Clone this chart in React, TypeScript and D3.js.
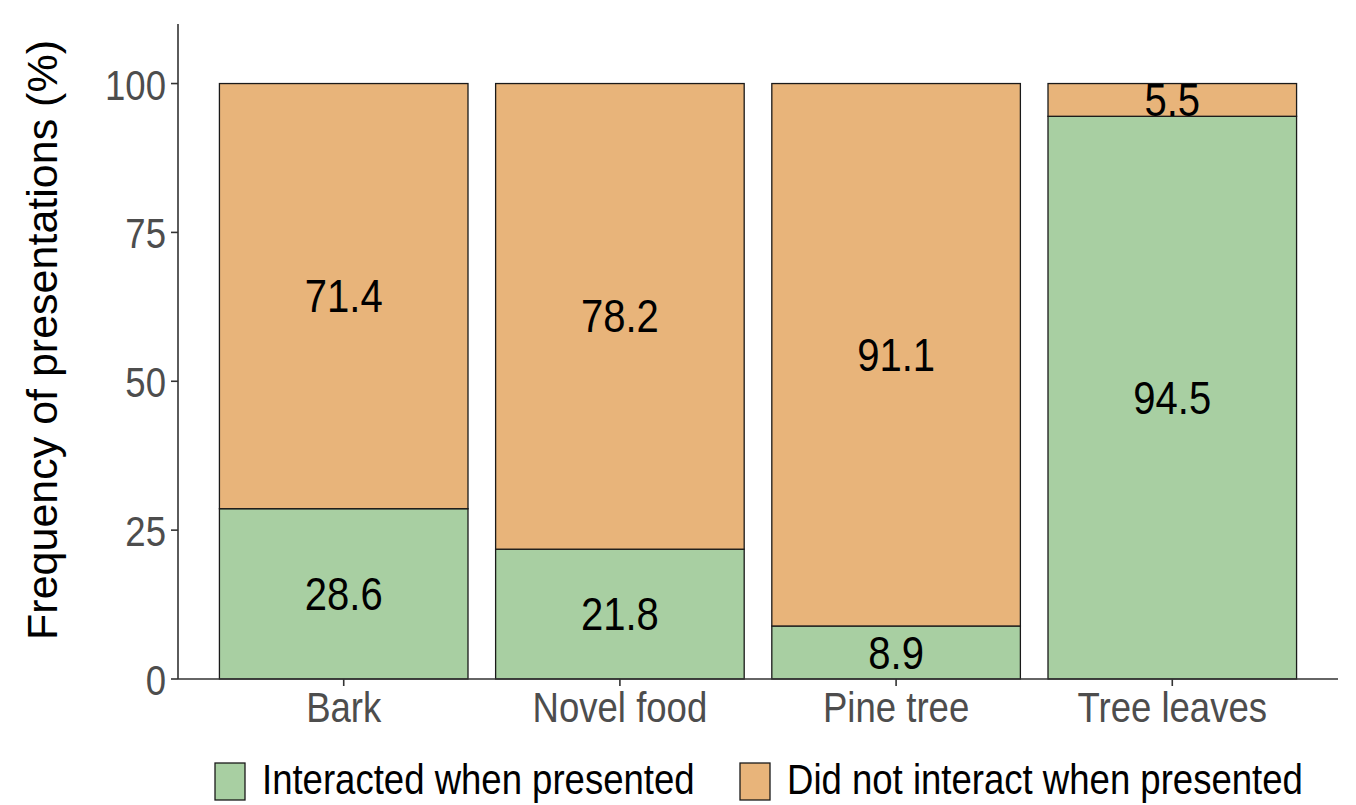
import * as d3 from "d3";

const categories = ["Bark", "Novel food", "Pine tree", "Tree leaves"];
const interacted = [28.6, 21.8, 8.9, 94.5];
const notInteracted = [71.4, 78.2, 91.1, 5.5];
const seriesNames = ["Interacted when presented", "Did not interact when presented"];
const seriesColors = ["#a8cfa2", "#e8b47a"];
const yTicks = [0, 25, 50, 75, 100];

const W = 1356;
const H = 805;
const margin = { top: 24, right: 18, bottom: 126, left: 178 };
const FONT = "'Liberation Sans', Arial, sans-serif";
const SQ = 0.87; // the reference text is horizontally squeezed

function SText(props: {
  x: number;
  y: number;
  size: number;
  anchor?: string;
  fill?: string;
  rotate?: number;
  children: string;
}) {
  const { x, y, size, anchor = "middle", fill = "#000", rotate = 0, children } = props;
  const tf = rotate
    ? `translate(${x},${y}) rotate(${rotate})`
    : `translate(${x},${y}) scale(${SQ},1)`;
  return (
    <g transform={tf}>
      <text fontFamily={FONT} fontSize={size} textAnchor={anchor} fill={fill}>
        {children}
      </text>
    </g>
  );
}

export default function App() {
  const x = d3
    .scaleBand<string>()
    .domain(categories)
    .range([margin.left, W - margin.right])
    .paddingInner(0.1)
    .paddingOuter(0.15);

  const y = d3
    .scaleLinear()
    .domain([0, 110])
    .range([H - margin.bottom, margin.top]);

  const rows = categories.map((c, i) => ({
    cat: c,
    a: interacted[i],
    b: notInteracted[i],
  }));
  const stack = d3.stack<{ cat: string; a: number; b: number }>().keys(["a", "b"]);
  const layers = stack(rows);

  const y0 = y(0);
  const fmt = d3.format(".1f");

  return (
    <svg
      width={W}
      height={H}
      style={{ position: "absolute", left: 0, top: 0, background: "#fff" }}
    >
      {layers.map((layer, li) => (
        <g key={li}>
          {layer.map((d, i) => {
            const bx = x(d.data.cat)!;
            const top = y(d[1]);
            const bot = y(d[0]);
            return (
              <rect
                key={i}
                x={bx}
                y={top}
                width={x.bandwidth()}
                height={bot - top}
                fill={seriesColors[li]}
                stroke="#1a1a1a"
                strokeWidth={1.3}
              />
            );
          })}
        </g>
      ))}
      {layers.map((layer, li) =>
        layer.map((d, i) => (
          <SText
            key={`l${li}-${i}`}
            x={x(d.data.cat)! + x.bandwidth() / 2}
            y={y((d[0] + d[1]) / 2) + 16}
            size={46}
          >
            {fmt(d[1] - d[0])}
          </SText>
        ))
      )}

      {/* y axis */}
      <line x1={margin.left} x2={margin.left} y1={y(110)} y2={y0} stroke="#333" strokeWidth={1.6} />
      {yTicks.map((t) => (
        <g key={t}>
          <line x1={margin.left - 7} x2={margin.left} y1={y(t)} y2={y(t)} stroke="#333" strokeWidth={1.6} />
          <SText x={166} y={y(t) + 16} size={42} anchor="end" fill="#4d4d4d">
            {String(t)}
          </SText>
        </g>
      ))}

      {/* x axis */}
      <line x1={margin.left} x2={W - margin.right} y1={y0} y2={y0} stroke="#333" strokeWidth={1.6} />
      {categories.map((c) => {
        const cx = x(c)! + x.bandwidth() / 2;
        return (
          <g key={c}>
            <line x1={cx} x2={cx} y1={y0} y2={y0 + 7} stroke="#333" strokeWidth={1.6} />
            <SText x={cx} y={722} size={42} fill="#4d4d4d">
              {c}
            </SText>
          </g>
        );
      })}

      <SText x={57} y={340} size={43} rotate={-90}>
        Frequency of presentations (%)
      </SText>

      {/* legend */}
      {[215, 740].map((lx, i) => (
        <g key={i}>
          <rect x={lx} y={763} width={30} height={37} fill={seriesColors[i]} stroke="#1a1a1a" strokeWidth={1.3} />
          <g transform={`translate(${lx + 47},794) scale(${SQ},1)`}>
            <text fontFamily={FONT} fontSize={42} fill="#000">
              {seriesNames[i]}
            </text>
          </g>
        </g>
      ))}
    </svg>
  );
}
